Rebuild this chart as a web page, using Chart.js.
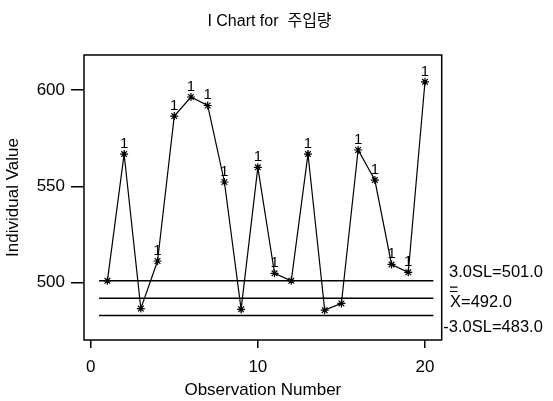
<!DOCTYPE html>
<html>
<head>
<meta charset="utf-8">
<script src="https://cdn.jsdelivr.net/npm/chart.js@4.4.1/dist/chart.umd.min.js"></script>
<style>
  html, body { margin: 0; padding: 0; background: #fff; }
</style>
</head>
<body>
<canvas id="chart" width="553" height="401"></canvas>
<script>
// Data
const obsNumbers = [1, 2, 3, 4, 5, 6, 7, 8, 9, 10, 11, 12, 13, 14, 15, 16, 17, 18, 19, 20];
const values = [501.0, 566.8, 486.6, 511.3, 586.5, 596.4, 592.0, 552.3, 486.2, 559.9,
                504.9, 501.0, 566.8, 485.8, 489.3, 568.9, 553.3, 509.5, 505.4, 604.3];
const testFlags = [0, 1, 0, 1, 1, 1, 1, 1, 0, 1, 1, 0, 1, 0, 0, 1, 1, 1, 1, 1]; // failed test 1
const limitValues = [501.0, 492.0, 483.0];
const limitLabels = ['3.0SL=501.0', 'X=492.0', '-3.0SL=483.0'];
const limitSpan = [0.5, 20.5];
const xTicks = [0, 10, 20];
const yTicks = [500, 550, 600];

const FONT = 'Arial, "Liberation Sans", "Noto Sans CJK KR", sans-serif';

// Frame, "1" flags and control limit labels
const chartMarks = {
    id: 'chartMarks',
    afterDatasetsDraw(chart) {
        const { ctx, chartArea, scales } = chart;
        ctx.save();
        ctx.strokeStyle = '#000';
        ctx.lineWidth = 1.5;
        ctx.strokeRect(chartArea.left, chartArea.top, chartArea.right - chartArea.left, chartArea.bottom - chartArea.top);

        ctx.fillStyle = '#000';
        ctx.font = '15px ' + FONT;
        ctx.textAlign = 'center';
        ctx.textBaseline = 'alphabetic';
        chart.getDatasetMeta(0).data.forEach((pt, i) => {
            if (testFlags[i]) ctx.fillText('1', pt.x, pt.y - 6);
        });

        ctx.font = '16.5px ' + FONT;
        ctx.textAlign = 'left';
        ctx.textBaseline = 'middle';
        const shifts = [[7.3, -8.3], [8.3, 4], [1.6, 12]];
        limitValues.forEach((v, i) => {
            const x = chartArea.right + shifts[i][0];
            const y = scales.y.getPixelForValue(v) + shifts[i][1];
            ctx.fillText(limitLabels[i], x, y);
            if (i === 1) {
                // double bar over X
                ctx.lineWidth = 1.2;
                ctx.beginPath();
                ctx.moveTo(x, y - 15); ctx.lineTo(x + 7.5, y - 15);
                ctx.moveTo(x, y - 10.7); ctx.lineTo(x + 7.5, y - 10.7);
                ctx.stroke();
            }
        });
        ctx.restore();
    }
};

const mainSeries = {
    data: obsNumbers.map((x, i) => ({ x, y: values[i] })),
    borderColor: '#000',
    borderWidth: 1.2,
    pointStyle: 'star',
    pointRadius: 4,
    pointBorderColor: '#000',
    pointBorderWidth: 1.2,
    fill: false,
    tension: 0
};

const limitSeries = limitValues.map(v => ({
    data: limitSpan.map(x => ({ x, y: v })),
    borderColor: '#000',
    borderWidth: 1.5,
    pointRadius: 0,
    fill: false
}));

new Chart(document.getElementById('chart'), {
    type: 'line',
    data: { datasets: [mainSeries, ...limitSeries] },
    options: {
        responsive: false,
        animation: false,
        devicePixelRatio: 1,
        layout: { padding: { left: 0, right: 14, top: 0, bottom: 0 } },
        plugins: {
            legend: { display: false },
            tooltip: { enabled: false },
            title: {
                display: true,
                text: 'I Chart for  주입량',
                color: '#000',
                font: { family: FONT, size: 16, weight: 'normal' },
                padding: { top: 12.4, bottom: 23.4 }
            }
        },
        scales: {
            x: {
                type: 'linear',
                position: 'bottom',
                min: -0.4,
                max: 21,
                afterBuildTicks: s => { s.ticks = xTicks.map(v => ({ value: v })); },
                afterFit: s => { s.height = 61; },
                border: { display: false },
                grid: { drawOnChartArea: false, drawTicks: true, tickLength: 8, color: '#000', lineWidth: 1.5 },
                ticks: { color: '#000', font: { family: FONT, size: 17 }, padding: 9, maxRotation: 0 },
                title: { display: true, text: 'Observation Number', color: '#000', font: { family: FONT, size: 17 }, padding: { top: 0, bottom: 0 } }
            },
            y: {
                type: 'linear',
                position: 'left',
                min: 470.3,
                max: 618.2,
                afterBuildTicks: s => { s.ticks = yTicks.map(v => ({ value: v })); },
                afterFit: s => { s.width = 84; },
                border: { display: false },
                grid: { drawOnChartArea: false, drawTicks: true, tickLength: 13, color: '#000', lineWidth: 1.5 },
                ticks: { color: '#000', font: { family: FONT, size: 17 }, padding: 6 },
                title: { display: true, text: 'Individual Value', color: '#000', font: { family: FONT, size: 17 }, padding: { top: 3, bottom: 0 } }
            },
            y2: {
                type: 'linear',
                position: 'right',
                afterFit: s => { s.width = 97.3; },
                border: { display: false },
                grid: { display: false },
                ticks: { display: false }
            }
        }
    },
    plugins: [chartMarks]
});
</script>
</body>
</html>
